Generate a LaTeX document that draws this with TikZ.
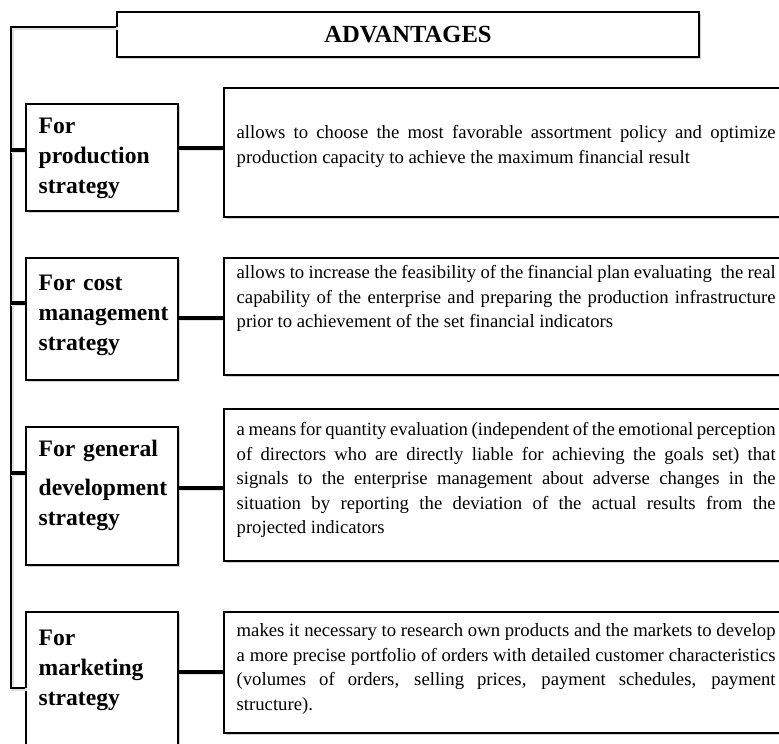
\documentclass[tikz,border=0pt]{standalone}
\usepackage{fontspec}
\setmainfont{Liberation Serif}
\usetikzlibrary{shadows}
\tikzset{
  box/.style={draw, line width=1.1pt, fill=white, inner sep=0pt,
    drop shadow={shadow xshift=2pt, shadow yshift=-2pt, fill=black!18, opacity=1}},
  head/.style={font=\fontsize{24.6}{30}\selectfont\bfseries},
  lbl/.style={font=\fontsize{23.6}{30}\selectfont\bfseries, inner sep=0pt, text width=136pt, align=left, anchor=north west},
  txt/.style={font=\fontsize{18.7}{24.5}\selectfont, inner sep=0pt, text width=539pt, align=justify, anchor=north west},
  spine/.style={line width=2.8pt, preaction={draw=black!12, line width=2.8pt, transform canvas={shift={(1.5pt,-1.5pt)}}}},
  link/.style={line width=3.6pt, preaction={draw=black!12, line width=3.6pt, transform canvas={shift={(0pt,-1.5pt)}}}}
}
\begin{document}
\begin{tikzpicture}[x=1pt,y=-1pt]
        \useasboundingbox (0,0) rectangle (779,744);
        % title
        \node[box, head, minimum width=582pt, minimum height=45pt] (ttl) at (408,34.5) {ADVANTAGES};
        % left boxes
        \node[box, minimum width=152pt, minimum height=107pt] (l1) at (102,157.5) {};
        \node[box, minimum width=152pt, minimum height=122pt] (l2) at (102,319) {};
        \node[box, minimum width=152pt, minimum height=138pt] (l3) at (102,496) {};
        \node[box, minimum width=152pt, minimum height=150pt] (l4) at (102,687) {};
        \node[lbl] (l1t) at ([shift={(13,14)}]l1.north west) {For\\production\\strategy};
        \node[lbl] (l2t) at ([shift={(13,17)}]l2.north west) {For cost\\management\\strategy};
        \node[lbl] (l3t) at ([shift={(13,13)}]l3.north west) {For general\\[9pt]development\\strategy};
        \node[lbl] (l4t) at ([shift={(13,18)}]l4.north west) {For\\marketing\\strategy};
        % right boxes
        \node[box, minimum width=576pt, minimum height=129pt] (r1) at (512,152.5) {};
        \node[box, minimum width=576pt, minimum height=117pt] (r2) at (512,316.5) {};
        \node[box, minimum width=576pt, minimum height=152pt] (r3) at (512,485) {};
        \node[box, minimum width=576pt, minimum height=121pt] (r4) at (512,672.5) {};
        \node[txt] (r1t) at ([shift={(13,38)}]r1.north west) {allows to choose the most favorable assortment policy and optimize\linebreak production capacity to achieve the maximum financial result};
        \node[txt] (r2t) at ([shift={(13,8)}]r2.north west) {allows to increase the feasibility of the financial plan evaluating~ the real\linebreak capability of the enterprise and preparing the production infrastructure\linebreak prior to achievement of the set financial indicators};
        \node[txt] (r3t) at ([shift={(13,14)}]r3.north west) {a means for quantity evaluation (independent of the emotional perception\linebreak of directors who are directly liable for achieving the goals set) that\linebreak signals to the enterprise management about adverse changes in the\linebreak situation by reporting the deviation of the actual results from the\linebreak projected indicators};
        \node[txt] (r4t) at ([shift={(13,12)}]r4.north west) {makes it necessary to research own products and the markets to develop\linebreak a more precise portfolio of orders with detailed customer characteristics\linebreak (volumes of orders, selling prices, payment schedules, payment\linebreak structure).};
        % spine and branches
        \coordinate (spTop) at (11,27);
        \coordinate (spBot) at (11,688);
        \draw[spine] (ttl.west |- spTop) -- (spTop) -- (spBot) -- (l4.west |- spBot);
        \draw[link] (spTop |- 0,150) -- (l1.west |- 0,150);
        \draw[link] (spTop |- 0,303) -- (l2.west |- 0,303);
        \draw[link] (spTop |- 0,473) -- (l3.west |- 0,473);
        % connectors
        \draw[link] (l1.east |- 0,148) -- (r1.west |- 0,148);
        \draw[link] (l2.east |- 0,318) -- (r2.west |- 0,318);
        \draw[link] (l3.east |- 0,488) -- (r3.west |- 0,488);
        \draw[link] (l4.east |- 0,672) -- (r4.west |- 0,672);
\end{tikzpicture}
\end{document}
